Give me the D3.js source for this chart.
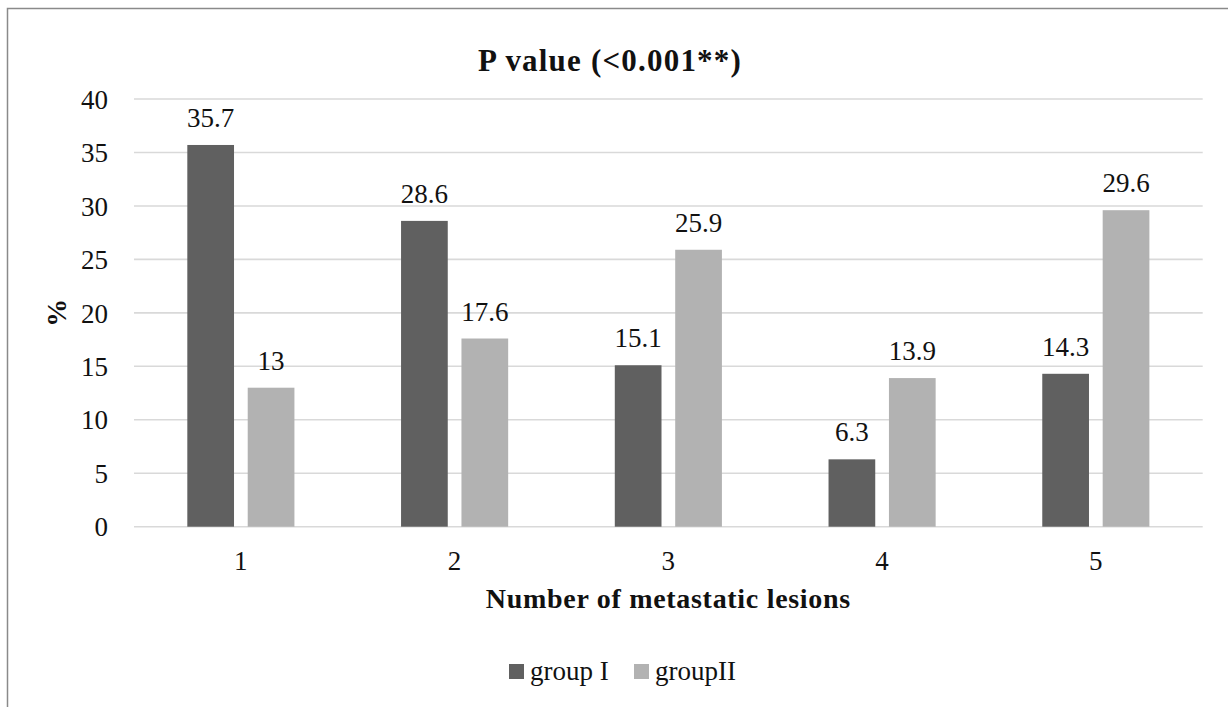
<!DOCTYPE html>
<html>
<head>
<meta charset="utf-8">
<script src="https://cdn.jsdelivr.net/npm/d3@7"></script>
<style>
  html, body { margin: 0; padding: 0; background: #fff; }
  svg { display: block; font-family: "Liberation Serif", "DejaVu Serif", serif; }
</style>
</head>
<body>
<svg id="chart" width="1228" height="707"></svg>
<script>
// Number of metastatic lesions (categories) and percentages per group
const categories = ["1", "2", "3", "4", "5"];
const seriesNames = ["group I", "groupII"];
const groupI = [35.7, 28.6, 15.1, 6.3, 14.3];
const groupII = [13, 17.6, 25.9, 13.9, 29.6];
const yTicks = [0, 5, 10, 15, 20, 25, 30, 35, 40];
const titleText = "P value (<0.001**)";
const xTitle = "Number of metastatic lesions";
const yTitle = "%";

const colors = { "group I": "#606060", "groupII": "#b2b2b2" };

const svg = d3.select("#chart");
const W = 1228, H = 707;

// chart frame (extends past the right/bottom edges)
svg.append("rect")
  .attr("x", 7.5).attr("y", 8.5)
  .attr("width", 1400).attr("height", 900)
  .attr("fill", "#fff")
  .attr("stroke", "#8a8a8a").attr("stroke-width", 1.5);

const plot = { left: 134, right: 1202.7, top: 99, bottom: 526.7 };

const x = d3.scaleBand()
  .domain(categories)
  .range([plot.left, plot.right])
  .padding(0);

const xInner = d3.scaleBand()
  .domain(seriesNames)
  .range([0, x.bandwidth()])
  .paddingInner(0.2268)
  .paddingOuter(0.8825);

const y = d3.scaleLinear()
  .domain([0, 40])
  .range([plot.bottom, plot.top]);

// gridlines
svg.append("g")
  .selectAll("line")
  .data(yTicks)
  .join("line")
  .attr("x1", plot.left).attr("x2", plot.right)
  .attr("y1", d => y(d)).attr("y2", d => y(d))
  .attr("stroke", "#d9d9d9").attr("stroke-width", 1.6);

// y axis labels
const yAxis = d3.axisLeft(y).tickValues(yTicks).tickSize(0).tickPadding(0);
const yG = svg.append("g")
  .attr("transform", `translate(${plot.left - 26},0)`)
  .call(yAxis);
yG.select(".domain").remove();
yG.selectAll("text")
  .attr("font-family", "Liberation Serif, serif")
  .attr("font-size", 27)
  .attr("fill", "#111")
  .attr("dy", "0.34em");

// x axis labels
const xAxis = d3.axisBottom(x).tickSize(0).tickPadding(0);
const xG = svg.append("g")
  .attr("transform", `translate(0,${plot.bottom})`)
  .call(xAxis);
xG.select(".domain").remove();
xG.selectAll("text")
  .attr("font-family", "Liberation Serif, serif")
  .attr("font-size", 27)
  .attr("fill", "#111")
  .attr("y", 0)
  .attr("dy", 0)
  .attr("transform", "translate(0,43)");

// bars
const rows = categories.map((c, i) => ({
  cat: c,
  values: [
    { key: "group I", value: groupI[i] },
    { key: "groupII", value: groupII[i] }
  ]
}));

const catG = svg.append("g")
  .selectAll("g")
  .data(rows)
  .join("g")
  .attr("transform", d => `translate(${x(d.cat)},0)`);

catG.selectAll("rect")
  .data(d => d.values)
  .join("rect")
  .attr("x", d => xInner(d.key))
  .attr("width", xInner.bandwidth())
  .attr("y", d => y(d.value))
  .attr("height", d => y(0) - y(d.value))
  .attr("fill", d => colors[d.key]);

// value labels
catG.selectAll("text")
  .data(d => d.values)
  .join("text")
  .attr("x", d => xInner(d.key) + xInner.bandwidth() / 2)
  .attr("y", d => y(d.value) - 18)
  .attr("text-anchor", "middle")
  .attr("font-size", 27)
  .attr("fill", "#111")
  .text(d => String(d.value));

// title
svg.append("text")
  .attr("x", 610)
  .attr("y", 71)
  .attr("text-anchor", "middle")
  .attr("font-size", 31)
  .attr("font-weight", "bold")
  .attr("letter-spacing", "1.2px")
  .attr("fill", "#111")
  .text(titleText);

// x axis title
svg.append("text")
  .attr("x", (plot.left + plot.right) / 2)
  .attr("y", 608)
  .attr("text-anchor", "middle")
  .attr("font-size", 28)
  .attr("font-weight", "bold")
  .attr("letter-spacing", "0.7px")
  .attr("fill", "#111")
  .text(xTitle);

// y axis title
svg.append("text")
  .attr("transform", `translate(66,${(plot.top + plot.bottom) / 2}) rotate(-90)`)
  .attr("text-anchor", "middle")
  .attr("font-size", 28)
  .attr("font-weight", "bold")
  .attr("fill", "#111")
  .text(yTitle);

// legend
const legendItems = [
  { key: "group I", sx: 509, tx: 530 },
  { key: "groupII", sx: 634, tx: 655 }
];
const leg = svg.append("g");
leg.selectAll("rect")
  .data(legendItems)
  .join("rect")
  .attr("x", d => d.sx).attr("y", 664)
  .attr("width", 15).attr("height", 15)
  .attr("fill", d => colors[d.key]);
leg.selectAll("text")
  .data(legendItems)
  .join("text")
  .attr("x", d => d.tx).attr("y", 680)
  .attr("font-size", 27)
  .attr("fill", "#111")
  .text(d => d.key);
</script>
</body>
</html>
